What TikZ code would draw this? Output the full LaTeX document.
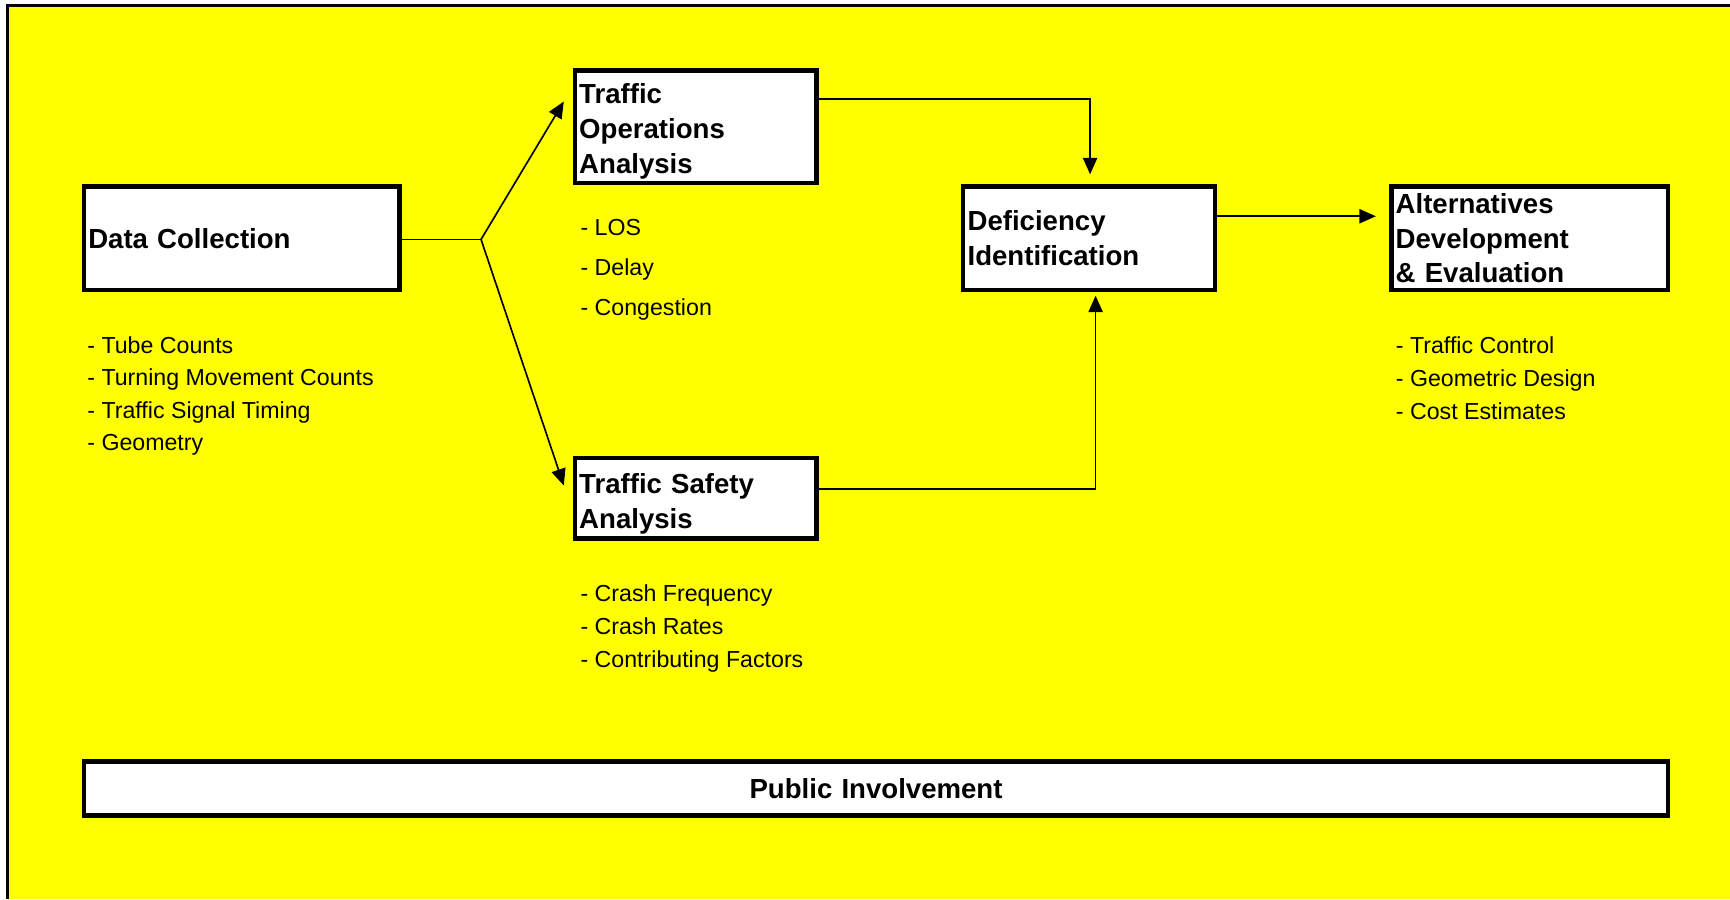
\documentclass[tikz,border=0pt]{standalone}
\usepackage{fontspec}
\setmainfont{Liberation Sans}
\usetikzlibrary{arrows.meta}
\definecolor{bgyellow}{RGB}{255,255,0}
\begin{document}
\begin{tikzpicture}[x=1pt,y=-1pt,
  procbox/.style={draw=black, line width=4pt, fill=white, rectangle, inner xsep=4pt, inner ysep=0pt, align=left, font=\bfseries\fontsize{25}{31.5}\selectfont, anchor=center},
  itemlist/.style={inner sep=0pt, anchor=west, align=left, font=\fontsize{21}{29.5}\selectfont},
  conn/.style={line width=1.5pt},
  arr/.style={conn, -{Triangle[length=15pt,width=13pt]}}
]
\useasboundingbox (0,0) rectangle (1568,815);
\fill[bgyellow] (7,5) rectangle (1568,815);
\draw[line width=2.7pt] (7,815) -- (7,5) -- (1568,5);

\node[procbox, text width=278pt, minimum height=94pt] (dc) at (219,216) {Data Collection};
\node[procbox, text width=211pt, minimum height=102pt] (toa) at (630.5,115) {\rule{0pt}{26pt}Traffic\\Operations\\Analysis};
\node[procbox, text width=220pt, minimum height=94pt] (di) at (987,216) {Deficiency\\Identification};
\node[procbox, text width=243pt, minimum height=94pt] (ade) at (1386.5,216) {Alternatives\\Development\\\& Evaluation};
\node[procbox, text width=211pt, minimum height=73pt] (tsa) at (630.5,451.5) {\rule{0pt}{28pt}Traffic Safety\\Analysis};
\node[procbox, align=center, text width=1428pt, minimum height=49pt] (pi) at (794,714.5) {Public Involvement};

\node[itemlist] (dclist) at (79,359) {- Tube Counts\\- Turning Movement Counts\\- Traffic Signal Timing\\- Geometry};
\node[itemlist, font=\fontsize{21}{36.5}\selectfont] (toalist) at (526,244.5) {- LOS\\- Delay\\- Congestion};
\node[itemlist, font=\fontsize{21}{30}\selectfont] (tsalist) at (526,570) {- Crash Frequency\\- Crash Rates\\- Contributing Factors};
\node[itemlist, font=\fontsize{21}{30}\selectfont] (adelist) at (1265,343) {- Traffic Control\\- Geometric Design\\- Cost Estimates};

\coordinate (split) at (436,217);
\draw[conn] (split -| dc.east) -- (split);
\draw[arr] (split) -- ([xshift=-8pt,yshift=23pt]toa.west);
\draw[arr] (split) -- ([xshift=-8pt,yshift=11.5pt]tsa.west);
\draw[arr] ([yshift=25pt]toa.east) -| ([xshift=1pt,yshift=9pt]di.north);
\draw[arr] ([yshift=8.5pt]tsa.east) -| ([xshift=6pt,yshift=-3pt]di.south);
\draw[arr] ([yshift=20pt]di.east) -- ([xshift=-12pt,yshift=20pt]ade.west);
\end{tikzpicture}
\end{document}
